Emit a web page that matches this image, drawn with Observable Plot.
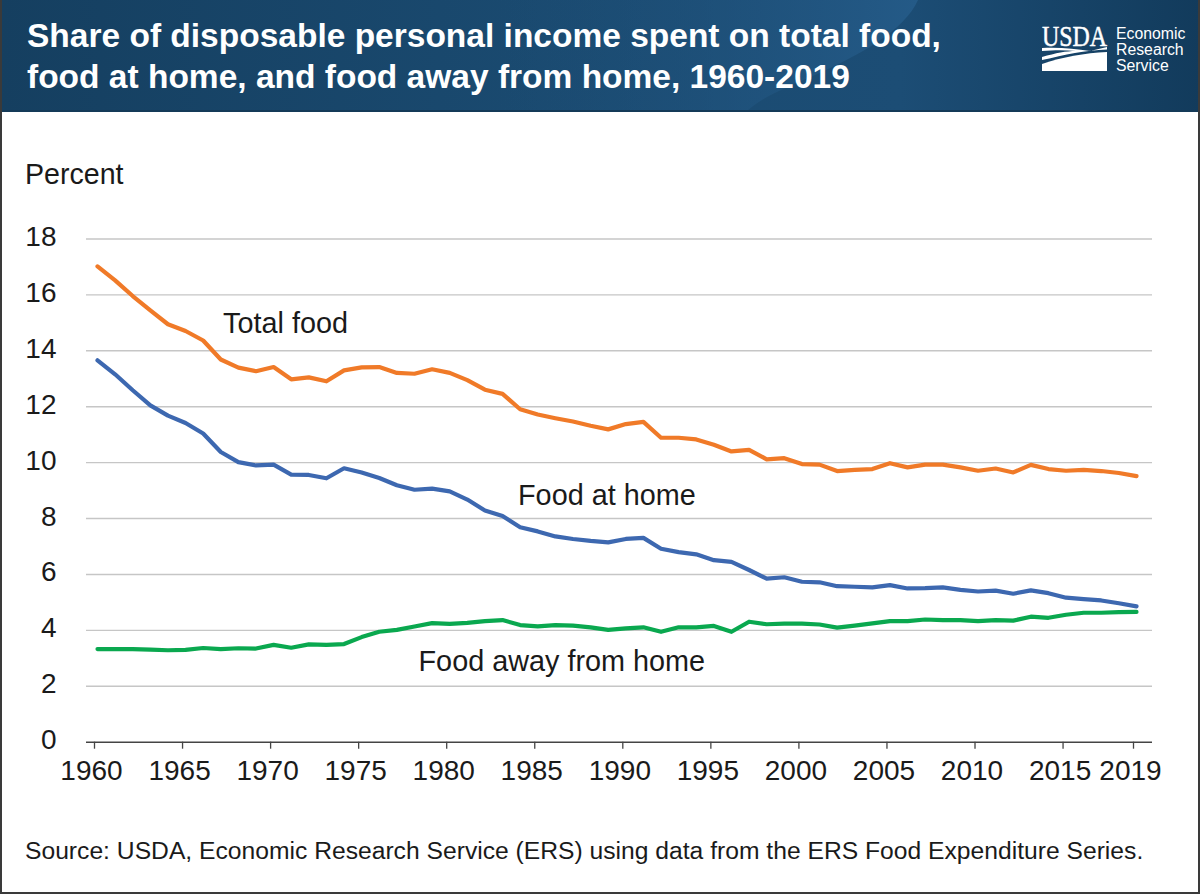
<!DOCTYPE html>
<html><head><meta charset="utf-8">
<script src="https://cdn.jsdelivr.net/npm/d3@7"></script>
<script src="https://cdn.jsdelivr.net/npm/@observablehq/plot@0.6"></script>
<style>
html,body{margin:0;padding:0;background:#fff;}
#page{position:relative;width:1200px;height:894px;overflow:hidden;font-family:"Liberation Sans",Arial,sans-serif;color:#1a1a1a;}
#header{position:relative;height:112px;width:1200px;color:#fff;}
#header svg.bg{position:absolute;left:0;top:0;}
#title{position:absolute;left:27px;top:15px;font-size:33.5px;font-weight:700;line-height:41px;white-space:nowrap;}
#ylabel{height:78px;box-sizing:border-box;padding:46px 0 0 25px;font-size:28.6px;line-height:32px;}
#chart{height:610px;}
#chart svg{display:block;}
#source{padding:36px 0 0 25px;font-size:24.66px;line-height:30px;white-space:nowrap;}
#frame{position:absolute;left:0;top:0;right:0;bottom:0;border:solid #3a3a3a;border-width:0 2px 2px 2px;pointer-events:none;}
</style></head>
<body>
<div id="page">
  <div id="header">
    <svg class="bg" width="1200" height="112" viewBox="0 0 1200 112">
      <defs>
        <linearGradient id="hg" x1="0" x2="1" y1="0" y2="0">
          <stop offset="0" stop-color="#153f60"/>
          <stop offset="0.45" stop-color="#1a4a70"/>
          <stop offset="0.75" stop-color="#1c4d75"/>
          <stop offset="1" stop-color="#123b5c"/>
        </linearGradient>
        <linearGradient id="sw" x1="0" x2="1" y1="0" y2="0">
          <stop offset="0" stop-color="#1d4f78" stop-opacity="0"/>
          <stop offset="1" stop-color="#245a87"/>
        </linearGradient>
      </defs>
      <rect width="1200" height="112" fill="url(#hg)"/>
      <path d="M500 0H918C905 30 860 55 815 75C785 88 760 98 746 112H500Z" fill="url(#sw)"/>
      <rect y="110" width="1200" height="2" fill="#143a58"/>
      <text x="1042" y="45.5" font-family="Liberation Serif" font-size="29" fill="#fff" stroke="#fff" stroke-width="0.5" textLength="65" lengthAdjust="spacingAndGlyphs">USDA</text>
      <path d="M1042 48C1060 47 1075 49 1090 51L1107 47V49.5C1085 50 1065 55 1042 60V57C1056 53 1066 51 1076 51C1065 50 1055 50 1042 51Z" fill="#fff"/>
      <path d="M1042 71V64C1062 57 1085 53 1107 52V71Z" fill="#fff"/>
      <g font-family="Liberation Sans" font-size="15.8" fill="#fff">
        <text x="1116" y="39">Economic</text>
        <text x="1116" y="55">Research</text>
        <text x="1116" y="70.500">Service</text>
      </g>
    </svg>
    <div id="title">Share of disposable personal income spent on total food,<br>food at home, and food away from home, 1960-2019</div>
  </div>
  <div id="ylabel">Percent</div>
  <div id="chart"></div>
  <div id="source">Source: USDA, Economic Research Service (ERS) using data from the ERS Food Expenditure Series.</div>
  <div id="frame"></div>
</div>
<script>
const years = d3.range(1960, 2020);
const totalFood = [17.02,16.52,15.96,15.45,14.95,14.71,14.37,13.69,13.40,13.27,13.42,12.98,13.05,12.91,13.30,13.41,13.42,13.21,13.18,13.34,13.21,12.95,12.61,12.46,11.91,11.72,11.59,11.47,11.32,11.19,11.38,11.46,10.89,10.89,10.83,10.64,10.40,10.46,10.12,10.16,9.95,9.93,9.70,9.74,9.77,9.98,9.83,9.93,9.93,9.83,9.71,9.79,9.65,9.92,9.77,9.71,9.74,9.70,9.63,9.52];
const foodAtHome = [13.66,13.16,12.59,12.05,11.68,11.42,11.04,10.38,10.02,9.90,9.93,9.57,9.56,9.44,9.80,9.65,9.45,9.19,9.03,9.07,8.97,8.68,8.29,8.09,7.69,7.54,7.36,7.27,7.20,7.15,7.27,7.31,6.92,6.80,6.72,6.51,6.45,6.16,5.85,5.90,5.74,5.72,5.58,5.56,5.54,5.62,5.50,5.51,5.54,5.45,5.39,5.42,5.31,5.43,5.33,5.17,5.12,5.07,4.97,4.86];
const foodAway = [3.33,3.33,3.33,3.31,3.29,3.30,3.37,3.33,3.36,3.35,3.48,3.38,3.50,3.48,3.51,3.76,3.95,4.02,4.14,4.26,4.23,4.27,4.33,4.37,4.19,4.14,4.19,4.17,4.11,4.02,4.07,4.11,3.95,4.11,4.11,4.16,3.95,4.31,4.22,4.24,4.24,4.21,4.10,4.17,4.25,4.33,4.33,4.39,4.37,4.37,4.33,4.37,4.35,4.49,4.45,4.56,4.63,4.63,4.65,4.66];
const xTicks = [1960,1965,1970,1975,1980,1985,1990,1995,2000,2005,2010,2015,2019];
const yTicks = [0,2,4,6,8,10,12,14,16,18];
const seriesNames = ["Total food","Food at home","Food away from home"];
const seriesValues = [totalFood, foodAtHome, foodAway];
const seriesColors = ["#f07a28","#3d68b0","#0aa84f"];
const labelYears = [1967.3,1984.05,1978.4];
const labelValues = [14.97,8.82,2.89];

const rows = seriesNames.flatMap((name,i)=>years.map((year,j)=>({name,year,value:seriesValues[i][j]})));
const labels = seriesNames.map((name,i)=>({name,year:labelYears[i],value:labelValues[i]}));

const plot = Plot.plot({
  width:1200, height:610,
  marginLeft:86, marginRight:48, marginTop:48.5, marginBottom:58.3,
  style:{background:"transparent",fontFamily:"Liberation Sans, Arial, sans-serif",color:"#1a1a1a",overflow:"visible"},
  x:{domain:[1960,2019],insetLeft:8,insetRight:19},
  y:{domain:[0,18]},
  color:{domain:seriesNames,range:seriesColors},
  marks:[
    Plot.ruleY(yTicks.filter(d=>d>0),{stroke:"#c6c6c6",strokeWidth:1.4,strokeOpacity:1}),
    Plot.axisY({ticks:yTicks,tickSize:0,tickPadding:30,label:null,fontSize:28,dy:-2,tickFormat:d=>String(d)}),
    Plot.axisX({ticks:xTicks,tickSize:7,label:null,tickFormat:()=>"",stroke:"#444",strokeWidth:1.3,strokeOpacity:1}),
    Plot.axisX({ticks:xTicks,tickSize:0,tickPadding:18,label:null,fontSize:28,dx:-3,tickFormat:d=>String(d)}),
    Plot.ruleY([0],{stroke:"#444",strokeWidth:1.6}),
    Plot.line(rows,{x:"year",y:"value",z:"name",stroke:"name",strokeWidth:4.2,dx:3,strokeLinejoin:"round",strokeLinecap:"round"}),
    Plot.text(labels,{x:"year",y:"value",text:"name",textAnchor:"start",fontSize:28.8,fill:"#1a1a1a"})
  ]
});
document.getElementById("chart").appendChild(plot);
</script>
</body></html>
